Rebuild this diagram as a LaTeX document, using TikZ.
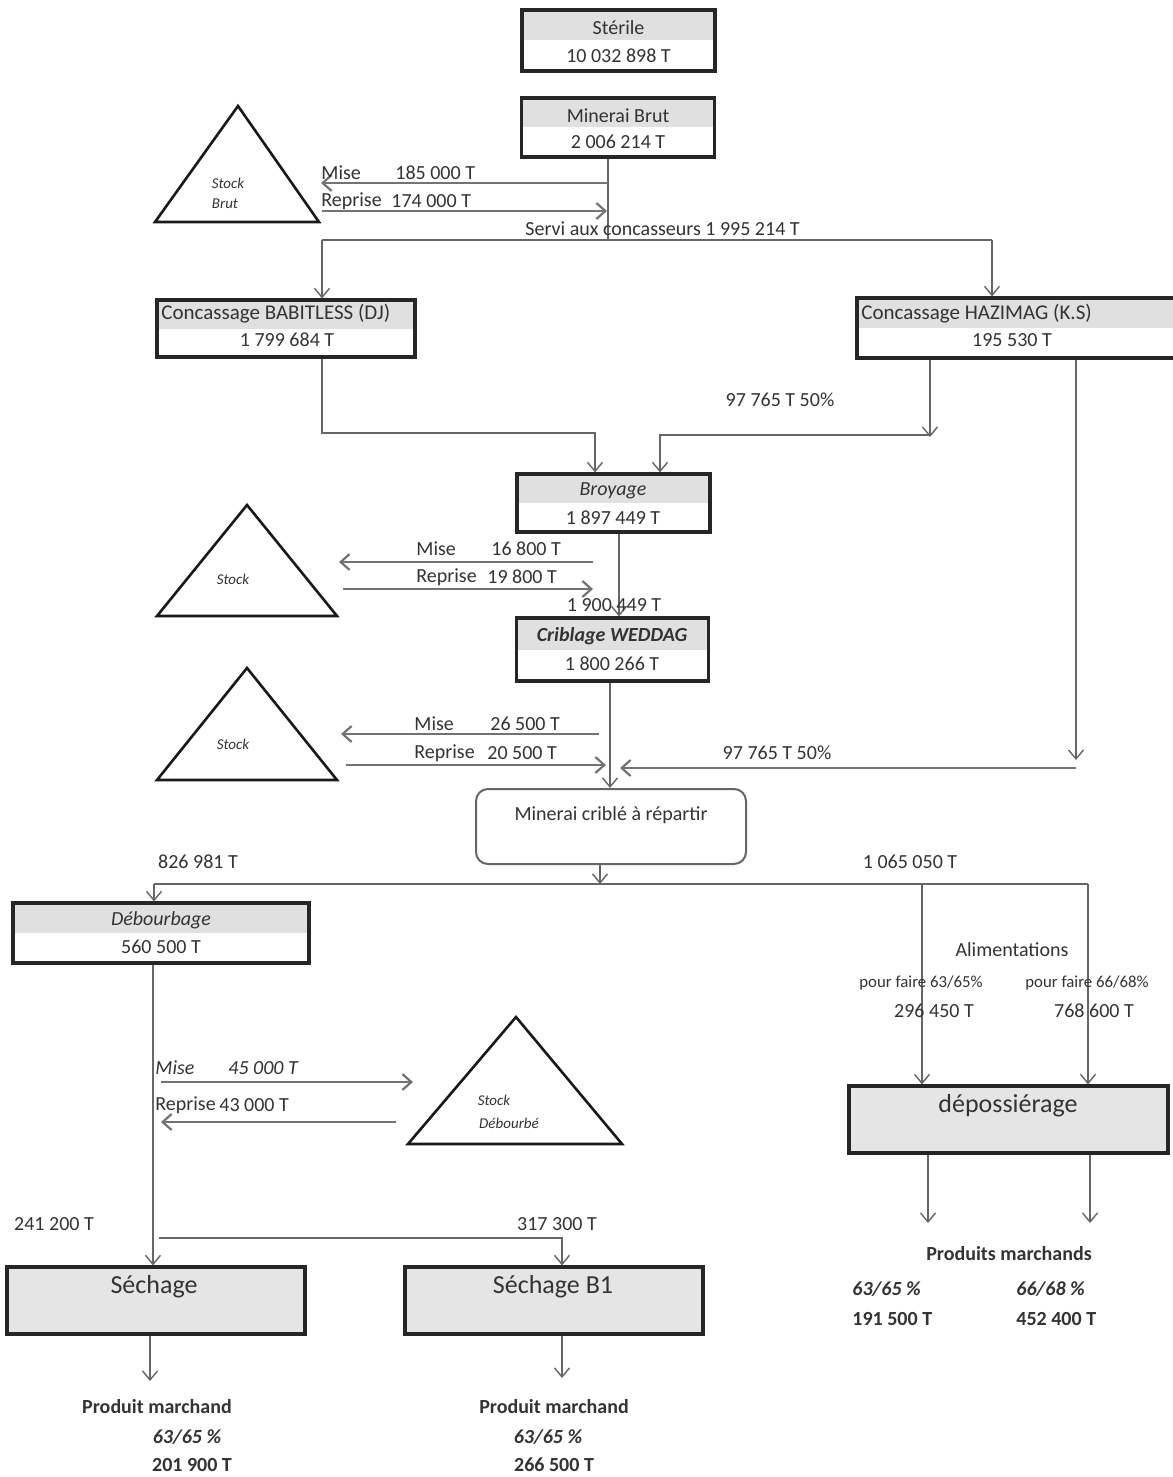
\documentclass[tikz,border=0pt]{standalone}
\usepackage{fontspec}
\setmainfont{Carlito}
\usetikzlibrary{arrows.meta,calc}
\begin{document}
\begin{tikzpicture}[x=0.5pt,y=-0.5pt,
  every node/.style={font=\fontsize{10}{12}\selectfont, text=black!80, inner sep=0pt},
  box/.style={draw=black!85, line width=1.6pt, rectangle, inner sep=0pt},
  hdrbox/.style={box, path picture={\fill[black!12] (path picture bounding box.north west) rectangle (path picture bounding box.east);}},
  fullbox/.style={box, fill=black!10},
  roundbox/.style={draw=black!60, line width=1pt, rounded corners=6pt, rectangle},
  flow/.style={draw=black!60, line width=0.7pt, -{Straight Barb[length=4.5pt,width=7.5pt]}},
  plain/.style={draw=black!60, line width=0.7pt},
  sflow/.style={draw=black!55, line width=1.1pt, -{Straight Barb[length=4.5pt,width=8pt]}},
  stock/.style={draw=black!90, line width=1.3pt, line join=miter},
  tri/.style={font=\fontsize{7.5}{9}\selectfont\itshape},
  big/.style={font=\fontsize{13}{15}\selectfont},
  small/.style={font=\fontsize{8.4}{10}\selectfont},
  it/.style={font=\fontsize{10}{12}\selectfont\itshape},
  b/.style={font=\fontsize{10}{12}\selectfont\bfseries},
  bi/.style={font=\fontsize{10}{12}\selectfont\bfseries\itshape},
]
\useasboundingbox[fill=white] (0,0) rectangle (1172,1477);

% ---------- boxes ----------
\node[hdrbox, minimum width=96.5pt, minimum height=30.5pt] (sterile) at (618.5,40.5) {};
\node (sterileT) at (618.5,28) {Stérile};
\node (sterileV) at (618.5,56) {10 032 898 T};

\node[hdrbox, minimum width=96.5pt, minimum height=29.5pt] (brut) at (618,127.5) {};
\node (brutT) at (618,116) {Minerai Brut};
\node (brutV) at (618,142) {2 006 214 T};

\node[hdrbox, minimum width=129pt, minimum height=28.5pt] (babit) at (286,328.5) {};
\node[anchor=west, font=\fontsize{10.5}{12}\selectfont] (babitT) at (161,314) {Concassage BABITLESS (DJ)};
\node (babitV) at (287,340) {1 799 684 T};

\node[hdrbox, minimum width=162pt, minimum height=30pt] (hazi) at (1019,328) {};
\node[anchor=west, font=\fontsize{10.5}{12}\selectfont] (haziT) at (861,314) {Concassage HAZIMAG (K.S)};
\node (haziV) at (1012,340) {195 530 T};

\node[hdrbox, minimum width=96.5pt, minimum height=29pt] (broy) at (613.5,503) {};
\node[it] (broyT) at (613,491) {Broyage};
\node (broyV) at (613,518) {1 897 449 T};

\node[hdrbox, minimum width=96pt, minimum height=31.5pt] (crib) at (612.5,649.5) {};
\node[bi] (cribT) at (612,636) {Criblage WEDDAG};
\node (cribV) at (612,664) {1 800 266 T};

\node[roundbox, minimum width=135pt, minimum height=37.5pt] (rep) at (611,826.5) {};
\node (repT) at (611,815) {Minerai criblé à répartir};

\node[hdrbox, minimum width=148pt, minimum height=30pt] (debo) at (161,933) {};
\node[it] (deboT) at (161,920) {Débourbage};
\node (deboV) at (161,947) {560 500 T};

\node[fullbox, minimum width=159.5pt, minimum height=33.5pt] (depo) at (1008.5,1119.5) {};
\node[big] (depoT) at (1008,1106) {dépossiérage};

\node[fullbox, minimum width=149pt, minimum height=33.5pt] (sech) at (156,1300.5) {};
\node[big] (sechT) at (154,1287) {Séchage};

\node[fullbox, minimum width=149pt, minimum height=33.5pt] (sechB) at (554,1300.5) {};
\node[big] (sechBT) at (553,1287) {Séchage B1};

% ---------- stock triangles ----------
\coordinate (t1a) at (238,106); \coordinate (t1b) at (155,222); \coordinate (t1c) at (319,222);
\draw[stock] (t1a) -- (t1b) -- (t1c) -- cycle;
\node[tri] (t1s) at (228,183) {Stock};
\node[tri] (t1r) at (225,204) {Brut};

\coordinate (t2a) at (247,505); \coordinate (t2b) at (157,616); \coordinate (t2c) at (337,616);
\draw[stock] (t2a) -- (t2b) -- (t2c) -- cycle;
\node[tri] (t2s) at (233,579) {Stock};

\coordinate (t3a) at (247,668); \coordinate (t3b) at (157,780); \coordinate (t3c) at (337,780);
\draw[stock] (t3a) -- (t3b) -- (t3c) -- cycle;
\node[tri] (t3s) at (233,744) {Stock};

\coordinate (t4a) at (516,1017); \coordinate (t4b) at (408,1144); \coordinate (t4c) at (622,1144);
\draw[stock] (t4a) -- (t4b) -- (t4c) -- cycle;
\node[tri] (t4s) at (494,1100) {Stock};
\node[tri] (t4r) at (509,1123) {Débourbé};

% ---------- top flows ----------
\coordinate (j1) at (608,240);
\draw[plain] (brut.south -| j1) -- (j1);
\draw[sflow] (608,183) -- (321,183);
\draw[sflow] (322,211) -- (607,211);
\node[anchor=west] (mise1) at (321,173) {Mise};
\node[anchor=west] (mise1v) at (395,173) {185 000 T};
\node[anchor=west] (rep1) at (321,201) {Reprise};
\node[anchor=west] (rep1v) at (391,201) {174 000 T};
\node[anchor=west] (servi) at (525,229) {Servi aux concasseurs 1 995 214 T};

\coordinate (jl) at (322,240); \coordinate (jr) at (992,240);
\draw[plain] (jl) -- (jr);
\draw[flow] (jl) -- (jl |- babit.north);
\draw[flow] (jr) -- (jr |- hazi.north);

% ---------- crushing to grinding ----------
\coordinate (c1) at (322,433); \coordinate (c2) at (595,433);
\draw[flow] (babit.south -| c1) -- (c1) -- (c2) -- (c2 |- broy.north);
\coordinate (h1) at (930,437); \coordinate (h2) at (930,435); \coordinate (h3) at (660,435);
\draw[flow] (hazi.south -| h1) -- (h1);
\draw[flow] (h2) -- (h3) -- (h3 |- broy.north);
\node (p1) at (780,400) {97 765 T 50\%};

% ---------- grinding ----------
\coordinate (g1) at (619,540);
\draw[flow] (broy.south -| g1) -- (g1 |- crib.north);
\draw[sflow] (593,562) -- (339,562);
\draw[sflow] (343,589) -- (593,589);
\node[anchor=west] (mise2) at (416,549) {Mise};
\node[anchor=west] (mise2v) at (491,549) {16 800 T};
\node[anchor=west] (rep2) at (416,577) {Reprise};
\node[anchor=west] (rep2v) at (487,577) {19 800 T};
\node (g2v) at (614,605) {1 900 449 T};

% ---------- screening ----------
\coordinate (s1) at (610,700);
\draw[flow] (crib.south -| s1) -- (s1 |- rep.north);
\draw[sflow] (599,734) -- (341,734);
\draw[sflow] (346,765) -- (606,765);
\node[anchor=west] (mise3) at (414,724) {Mise};
\node[anchor=west] (mise3v) at (490,724) {26 500 T};
\node[anchor=west] (rep3) at (414,753) {Reprise};
\node[anchor=west] (rep3v) at (487,753) {20 500 T};

\coordinate (k1) at (1076,760); \coordinate (k2) at (1076,768); \coordinate (k3) at (620,768);
\draw[flow] (hazi.south -| k1) -- (k1);
\draw[sflow] (k2) -- (k3);
\node (p2) at (777,753) {97 765 T 50\%};

% ---------- distribution ----------
\coordinate (d0) at (600,884);
\coordinate (dl) at (154,884); \coordinate (dm) at (922,884); \coordinate (dr) at (1088,884);
\draw[flow] (rep.south -| d0) -- (d0);
\draw[plain] (dl) -- (dr);
\draw[flow] (dl) -- (dl |- debo.north);
\draw[flow] (dm) -- (dm |- depo.north);
\draw[flow] (dr) -- (dr |- depo.north);
\node (q1) at (198,862) {826 981 T};
\node (q2) at (910,862) {1 065 050 T};

\node (alim) at (1012,950) {Alimentations};
\node[small] (pf1) at (921,983) {pour faire 63/65\%};
\node[small] (pf2) at (1087,983) {pour faire 66/68\%};
\node (a1) at (934,1011) {296 450 T};
\node (a2) at (1094,1011) {768 600 T};

% ---------- dedusting outputs ----------
\coordinate (e1) at (928,1223); \coordinate (e2) at (1090,1223);
\draw[flow] (depo.south -| e1) -- (e1);
\draw[flow] (depo.south -| e2) -- (e2);
\node[b] (pm) at (1009,1254) {Produits marchands};
\node[bi, anchor=west] (pm1) at (852,1289) {63/65 \%};
\node[bi, anchor=west] (pm2) at (1016,1289) {66/68 \%};
\node[b, anchor=west] (pm1v) at (852,1319) {191 500 T};
\node[b, anchor=west] (pm2v) at (1016,1319) {452 400 T};

% ---------- débourbage ----------
\coordinate (f1) at (153,1000);
\draw[flow] (debo.south -| f1) -- (f1 |- sech.north);
\draw[sflow] (161,1082) -- (413,1082);
\draw[sflow] (396,1122) -- (161,1122);
\node[it, anchor=west] (mise4) at (155,1068) {Mise};
\node[it, anchor=west] (mise4v) at (228,1068) {45 000 T};
\node[anchor=west] (rep4) at (155,1105) {Reprise};
\node[anchor=west] (rep4v) at (219,1105) {43 000 T};

\coordinate (r1) at (159,1238); \coordinate (r2) at (562,1238);
\draw[flow] (r1) -- (r2) -- (r2 |- sechB.north);
\node (u1) at (54,1224) {241 200 T};
\node (u2) at (557,1224) {317 300 T};

% ---------- drying outputs ----------
\coordinate (o1) at (150,1381); \coordinate (o2) at (562,1378);
\draw[flow] (sech.south -| o1) -- (o1);
\draw[flow] (sechB.south -| o2) -- (o2);
\node[b] (pa) at (157,1407) {Produit marchand};
\node[bi] (pa1) at (187,1437) {63/65 \%};
\node[b] (pa2) at (192,1465) {201 900 T};
\node[b] (pb) at (554,1407) {Produit marchand};
\node[bi] (pb1) at (548,1437) {63/65 \%};
\node[b] (pb2) at (554,1465) {266 500 T};
\end{tikzpicture}
\end{document}
